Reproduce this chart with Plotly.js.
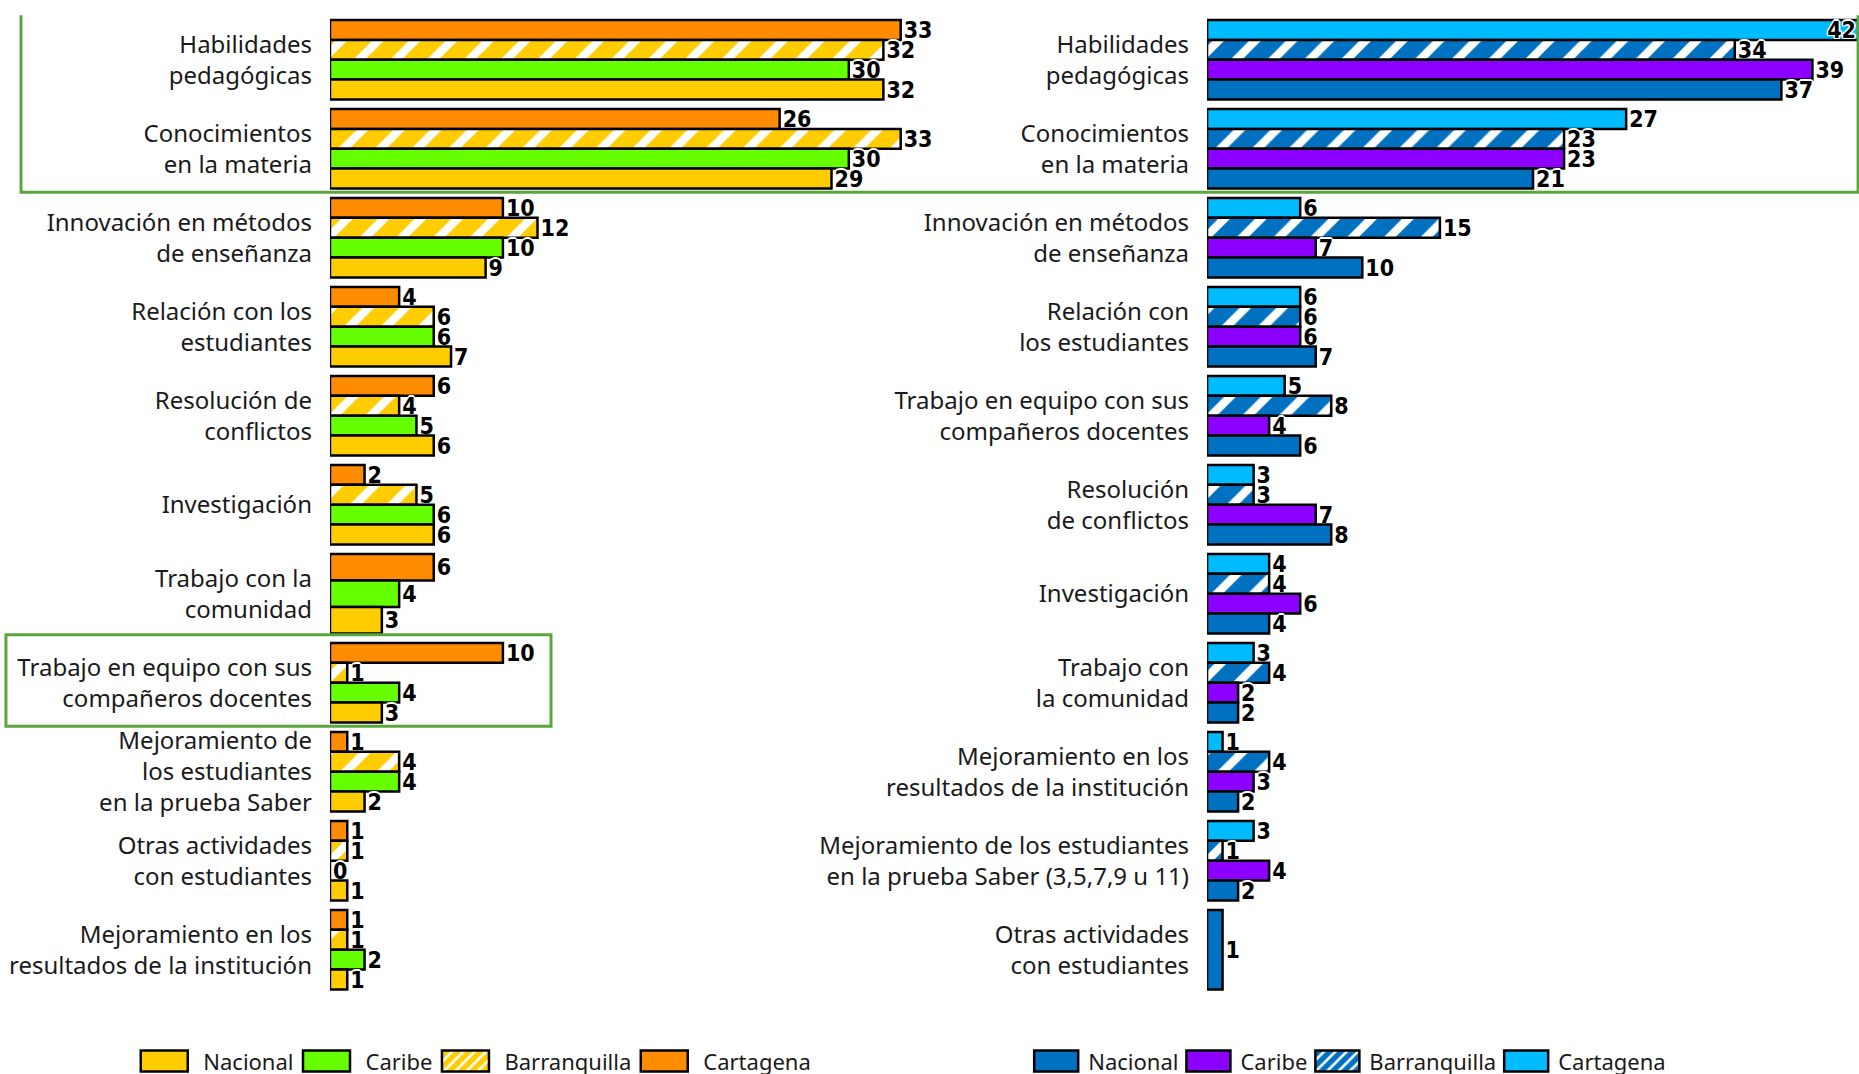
<!DOCTYPE html>
<html>
<head>
<meta charset="utf-8">
<script src="https://cdn.plot.ly/plotly-3.0.1.min.js"></script>
<style>
html,body{margin:0;padding:0;background:#fff;}
#chart{width:1859px;height:1074px;}
/* Excel-like large legend swatches */
#chart .legendpoints path{ d: path("M-23.5,-10.5H23.5V10.5H-23.5Z"); transform: translate(28px, 0px); }
#chart g.legend2 .legendpoints path{ d: path("M-22,-10.5H22V10.5H-22Z"); transform: translate(25px, 0px); }
</style>
</head>
<body>
<div id="chart"></div>
<script>
// ---------- DATA ----------
const seriesNames = ["Cartagena", "Barranquilla", "Caribe", "Nacional"]; // top-to-bottom order within each group

const leftCategories = [
  "Habilidades<br>pedagógicas",
  "Conocimientos<br>en la materia",
  "Innovación en métodos<br>de enseñanza",
  "Relación con los<br>estudiantes",
  "Resolución de<br>conflictos",
  "Investigación",
  "Trabajo con la<br>comunidad",
  "Trabajo en equipo con sus<br>compañeros docentes",
  "Mejoramiento de<br>los estudiantes<br>en la prueba Saber",
  "Otras actividades<br>con estudiantes",
  "Mejoramiento en los<br>resultados de la institución"
];
const leftCartagena    = [33, 26, 10, 4, 6, 2, 6, 10, 1, 1, 1];
const leftBarranquilla = [32, 33, 12, 6, 4, 5, null, 1, 4, 1, 1];
const leftCaribe       = [30, 30, 10, 6, 5, 6, 4, 4, 4, 0, 2];
const leftNacional     = [32, 29, 9, 7, 6, 6, 3, 3, 2, 1, 1];

const rightCategories = [
  "Habilidades<br>pedagógicas",
  "Conocimientos<br>en la materia",
  "Innovación en métodos<br>de enseñanza",
  "Relación con<br>los estudiantes",
  "Trabajo en equipo con sus<br>compañeros docentes",
  "Resolución<br>de conflictos",
  "Investigación",
  "Trabajo con<br>la comunidad",
  "Mejoramiento en los<br>resultados de la institución",
  "Mejoramiento de los estudiantes<br>en la prueba Saber (3,5,7,9 u 11)",
  "Otras actividades<br>con estudiantes"
];
const rightCartagena    = [42, 27, 6, 6, 5, 3, 4, 3, 1, 3, null];
const rightBarranquilla = [34, 23, 15, 6, 8, 3, 4, 4, 4, 1, null];
const rightCaribe       = [39, 23, 7, 6, 4, 7, 6, 2, 3, 4, null];
const rightNacional     = [37, 21, 10, 7, 6, 8, 4, 2, 2, 2, 1];

// ---------- STYLE ----------
const leftColors  = {Cartagena: "#FF8C00", Barranquilla: "#FFCC00", Caribe: "#66FF00", Nacional: "#FFCC00"};
const rightColors = {Cartagena: "#00BBFF", Barranquilla: "#0070C0", Caribe: "#8C00FF", Nacional: "#0070C0"};
const GROUP = 0.893;            // fraction of a category slot filled by its bars
const LEFT_MAX = 34, RIGHT_MAX = 42;
const labelFont = "Noto Sans, Liberation Sans, sans-serif";
const numFont = "Liberation Sans Narrow, DejaVu Sans Condensed, DejaVu Sans, sans-serif";
const halo = "white 1.5px 0px 0px, white -1.5px 0px 0px, white 0px 1.5px 0px, white 0px -1.5px 0px, white 1px 1px 0px, white -1px -1px 0px, white 1px -1px 0px, white -1px 1px 0px";

function buildPanel(valuesList, colors, xa, ya, legendId, xmax) {
  const nCat = valuesList[0].length;
  const ys = valuesList.map(() => []);
  const ws = valuesList.map(() => []);
  for (let i = 0; i < nCat; i++) {
    const present = [];
    valuesList.forEach((v, s) => { if (v[i] !== null) present.push(s); });
    const t = GROUP / present.length;
    valuesList.forEach((v, s) => {
      const k = present.indexOf(s);
      if (k < 0) { ys[s].push(i); ws[s].push(t); }
      else { ys[s].push(i - GROUP / 2 + (k + 0.5) * t); ws[s].push(t); }
    });
  }
  const tf = {family: numFont, size: 23, color: "#000000", weight: 700, shadow: halo};
  return valuesList.map((vals, s) => {
    const name = seriesNames[s];
    const marker = {color: colors[name], line: {color: "#000000", width: 2.5}};
    if (name === "Barranquilla") {
      marker.pattern = {shape: "/", bgcolor: colors[name], fgcolor: "#FFFFFF", size: 26, solidity: 0.32, fillmode: "replace"};
    }
    return {
      type: "bar", orientation: "h", name: name,
      x: vals, y: ys[s], width: ws[s],
      xaxis: xa, yaxis: ya, legend: legendId,
      marker: marker,
      text: vals.map(v => v === null ? "" : String(v)),
      textposition: vals.map(v => (v !== null && v >= xmax) ? "inside" : "outside"),
      insidetextanchor: "end",
      cliponaxis: false, constraintext: "none",
      textfont: tf, insidetextfont: tf, outsidetextfont: tf,
      hoverinfo: "skip"
    };
  });
}

const traces = [
  ...buildPanel([leftCartagena, leftBarranquilla, leftCaribe, leftNacional], leftColors, "x", "y", "legend", LEFT_MAX),
  ...buildPanel([rightCartagena, rightBarranquilla, rightCaribe, rightNacional], rightColors, "x2", "y2", "legend2", RIGHT_MAX)
];

const yDomain = [0.0743, 0.9858];
function yAxis(cats, anchor) {
  return {
    domain: yDomain, range: [cats.length - 0.5, -0.5], anchor: anchor,
    tickvals: cats.map((c, i) => i), ticktext: cats,
    ticks: "", showgrid: false, zeroline: false, showline: false,
    ticklabelstandoff: 17,
    tickfont: {family: labelFont, size: 24, color: "#1a1a1a"}
  };
}
const legendBase = {
  orientation: "h", yanchor: "middle", y: 0.012, xanchor: "left",
  traceorder: "reversed", font: {family: labelFont, size: 22, color: "#1a1a1a"},
  bgcolor: "rgba(0,0,0,0)", itemwidth: 57
};

const layout = {
  width: 1859, height: 1074,
  margin: {l: 0, r: 0, t: 0, b: 0, autoexpand: false},
  paper_bgcolor: "#ffffff", plot_bgcolor: "#ffffff",
  barmode: "overlay",
  showlegend: true,
  xaxis: {domain: [0.1775, 0.4938], range: [0, LEFT_MAX], visible: false, anchor: "y"},
  xaxis2: {domain: [0.6493, 1.0], range: [0, RIGHT_MAX], visible: false, anchor: "y2"},
  yaxis: yAxis(leftCategories, "x"),
  yaxis2: yAxis(rightCategories, "x2"),
  legend: Object.assign({}, legendBase, {x: 0.0733}),
  legend2: Object.assign({}, legendBase, {x: 0.5547, itemwidth: 47}),
  shapes: [
    {type: "rect", xref: "paper", yref: "y", x0: 0.0113, x1: 0.9995, y0: -0.55, y1: 1.49,
     line: {color: "#5AA63C", width: 3}, fillcolor: "rgba(0,0,0,0)"},
    {type: "rect", xref: "paper", yref: "y", x0: 0.0032, x1: 0.2964, y0: 6.46, y1: 7.49,
     line: {color: "#5AA63C", width: 3}, fillcolor: "rgba(0,0,0,0)"}
  ]
};

Plotly.newPlot("chart", traces, layout, {staticPlot: true, displayModeBar: false});
</script>
</body>
</html>
